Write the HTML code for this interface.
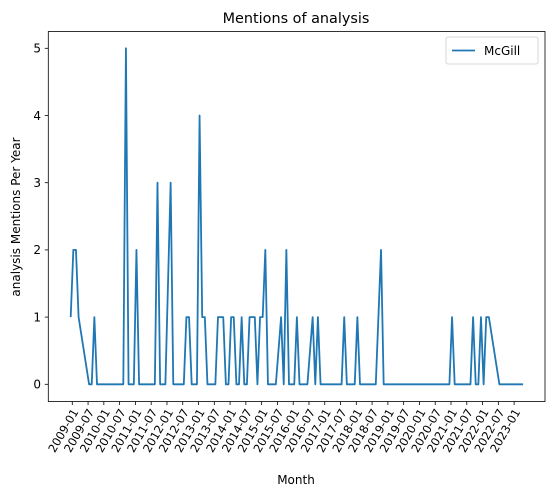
<!DOCTYPE html>
<html><head><meta charset="utf-8"><style>
body{margin:0;background:#fff;}
svg{display:block;font-family:"DejaVu Sans","Liberation Sans",sans-serif;}
</style></head><body>
<svg id="chart" width="554" height="498" viewBox="0 0 554 498" xmlns="http://www.w3.org/2000/svg">
<rect width="554" height="498" fill="#fff"/>
<text x="296" y="23" font-size="14.4" text-anchor="middle">Mentions of analysis</text>
<text transform="translate(20,217) rotate(-90)" font-size="12" text-anchor="middle">analysis Mentions Per Year</text>
<text x="296" y="484" font-size="12" text-anchor="middle">Month</text>
<g id="yticks"></g>
<g id="xticks"></g>
<path id="line" fill="none" stroke="#1f77b4" stroke-width="1.8" stroke-linejoin="round"/>
<rect x="48.3" y="31.5" width="496.7" height="370" fill="none" stroke="#000" stroke-width="0.8"/>
<g>
<rect x="446" y="37" width="92" height="27" rx="2" fill="#fff" stroke="#ccc" stroke-width="0.8"/>
<line x1="452" y1="50.5" x2="475" y2="50.5" stroke="#1f77b4" stroke-width="1.8"/>
<text x="484" y="55" font-size="12">McGill</text>
</g>
</svg>
<script>
// months index (0 = first data month, ~2008-12), mention values
const months = [0,1,2,3,7,8,9,10,20,21,22,24,25,26,32,33,34,36,38,39,43,44,45,46,48,49,50,51,52,55,56,58,59,60,61,62,63,64,65,66,67,68,70,71,72,73,74,75,78,80,81,82,83,85,86,87,90,92,93,94,95,103,104,105,108,109,110,116,118,119,144,145,146,152,153,154,155,156,157,158,159,163,172];
const values = [1,2,2,1,0,0,1,0,0,5,0,0,2,0,0,3,0,0,3,0,0,1,1,0,0,4,1,1,0,0,1,1,0,0,1,1,0,0,1,0,0,1,1,0,1,1,2,0,0,1,0,2,0,0,1,0,0,1,0,1,0,0,1,0,0,1,0,0,2,0,0,1,0,0,1,0,0,1,0,1,1,0,0];
const yTicks = [0,1,2,3,4,5];
const xTickLabels = [];
for (let y = 2009; y <= 2023; y++) { xTickLabels.push(y + "-01"); if (y < 2023) xTickLabels.push(y + "-07"); }

const NS = "http://www.w3.org/2000/svg";
const X0 = 70.7, STEP = 2.63, TICK_OFF = 0.6;
const Y0 = 384.3, YU = 67.2;
const xs = m => X0 + m * STEP;
const ys = v => Y0 - v * YU;

let d = "";
months.forEach((m, i) => { d += (i ? "L" : "M") + xs(m).toFixed(2) + "," + ys(values[i]).toFixed(2); });
document.getElementById("line").setAttribute("d", d);

const yg = document.getElementById("yticks");
yTicks.forEach(t => {
  const l = document.createElementNS(NS, "line");
  l.setAttribute("x1", 44.8); l.setAttribute("x2", 48.3);
  l.setAttribute("y1", ys(t)); l.setAttribute("y2", ys(t));
  l.setAttribute("stroke", "#000"); l.setAttribute("stroke-width", "0.8");
  
  
  yg.appendChild(l);
  const tx = document.createElementNS(NS, "text");
  tx.setAttribute("x", 41); tx.setAttribute("y", ys(t) + 4.3);
  tx.setAttribute("font-size", "12"); tx.setAttribute("text-anchor", "end");
  tx.textContent = t;
  
  
  yg.appendChild(tx);
});

const xg = document.getElementById("xticks");
xTickLabels.forEach((lab, j) => {
  const x = xs(TICK_OFF + 6 * j);
  const l = document.createElementNS(NS, "line");
  l.setAttribute("x1", x); l.setAttribute("x2", x);
  l.setAttribute("y1", 401.5); l.setAttribute("y2", 405);
  l.setAttribute("stroke", "#000"); l.setAttribute("stroke-width", "0.8");
  
  
  xg.appendChild(l);
  const tx = document.createElementNS(NS, "text");
  tx.setAttribute("transform", "translate(" + (x + 3.5) + ",410) rotate(-60)");
  tx.setAttribute("font-size", "11.5"); tx.setAttribute("text-anchor", "end");
  tx.setAttribute("dominant-baseline", "middle");
  tx.textContent = lab;
  
  
  xg.appendChild(tx);
});
</script>
</body></html>
